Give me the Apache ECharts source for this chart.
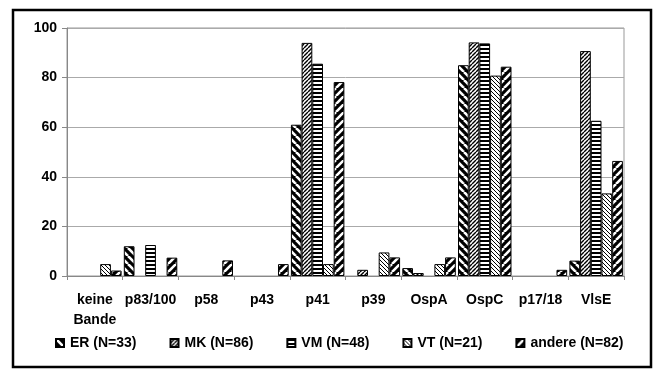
<!DOCTYPE html>
<html><head><meta charset="utf-8">
<script src="https://cdn.jsdelivr.net/npm/echarts@6/dist/echarts.min.js"></script>
<style>html,body{margin:0;padding:0;background:#fff}#c{width:663px;height:374px}</style>
</head><body><div id="c"></div>
<script>
const categories = ['keine\nBande','p83/100','p58','p43','p41','p39','OspA','OspC','p17/18','VlsE'];
const seriesNames = ['ER (N=33)','MK (N=86)','VM (N=48)','VT (N=21)','andere (N=82)'];
const ER     = [0, 12,   0, 0, 61,   0,   3.2, 85,   0,   6.2];
const MK     = [0, 0,    0, 0, 94,   2.5, 1.2, 94.2, 0,   90.7];
const VM     = [0, 12.5, 0, 0, 85.6, 0,   0,   93.8, 0,   62.6];
const VT     = [4.8, 0,  0, 0, 4.8,  9.5, 4.8, 80.8, 0,   33.3];
const andere = [2.2, 7.4, 6.3, 4.8, 78.2, 7.5, 7.5, 84.4, 2.5, 46.4];
const yTicks = [0,20,40,60,80,100];

function diag(size, bg, fg, lw, dir){
  const c=document.createElement('canvas'); c.width=c.height=size;
  const g=c.getContext('2d'); g.fillStyle=bg; g.fillRect(0,0,size,size);
  g.strokeStyle=fg; g.lineWidth=lw;
  for(let k=-1;k<=1;k++){
    g.beginPath();
    if(dir==='/'){ g.moveTo(k*size,size); g.lineTo(k*size+size,0); }
    else { g.moveTo(k*size,0); g.lineTo(k*size+size,size); }
    g.stroke();
  }
  return c;
}
function horiz(){
  const c=document.createElement('canvas'); c.width=4; c.height=4;
  const g=c.getContext('2d'); g.fillStyle='#fff'; g.fillRect(0,0,4,4);
  g.fillStyle='#000'; g.fillRect(0,0,4,2);
  return c;
}
const pats = [
  {image: diag(8,'#000','#fff',2.6,'\\'), repeat:'repeat'},
  {image: diag(4,'#fff','#000',1.4,'/'), repeat:'repeat'},
  {image: horiz(), repeat:'repeat'},
  {image: diag(4,'#fff','#000',1.0,'\\'), repeat:'repeat'},
  {image: diag(8,'#000','#fff',2.6,'/'), repeat:'repeat'}
];
const data = [ER, MK, VM, VT, andere];
const font = {fontFamily:'Liberation Sans, Arial, sans-serif', fontWeight:'bold', fontSize:14, color:'#000'};

const chart = echarts.init(document.getElementById('c'), null, {renderer:'canvas'});
chart.setOption({
  animation:false,
  backgroundColor:'#fff',
  grid:{left:67, right:39, top:28, bottom:98, show:true, borderColor:'#999', borderWidth:1},
  graphic:[{type:'rect', shape:{x:13,y:10,width:638,height:357}, style:{fill:'none', stroke:'#000', lineWidth:2.5}, z:100}],
  xAxis:{type:'category', data:categories,
    axisLine:{lineStyle:{color:'#888', width:1}},
    axisTick:{show:true, length:4, lineStyle:{color:'#888'}},
    axisLabel:Object.assign({margin:14, lineHeight:20, interval:0}, font)},
  yAxis:{type:'value', min:0, max:100, interval:20,
    axisLine:{show:true, lineStyle:{color:'#888'}},
    axisTick:{show:true, length:5, lineStyle:{color:'#888'}},
    splitLine:{lineStyle:{color:'#aaa', width:1}},
    axisLabel:Object.assign({margin:10}, font)},
  legend:{bottom:19, left:50, itemWidth:8, itemHeight:8, itemGap:33, icon:'rect',
    textStyle:Object.assign({}, font, {padding:[0,0,0,1]}),
    data:seriesNames},
  series: seriesNames.map((n,i)=>({
    name:n, type:'bar', data:data[i].map(v=>v===0?'-':v), barGap:'0%', barCategoryGap:'4%',
    itemStyle:{color:pats[i], borderColor:'#000', borderWidth:1}
  }))
});
</script></body></html>
